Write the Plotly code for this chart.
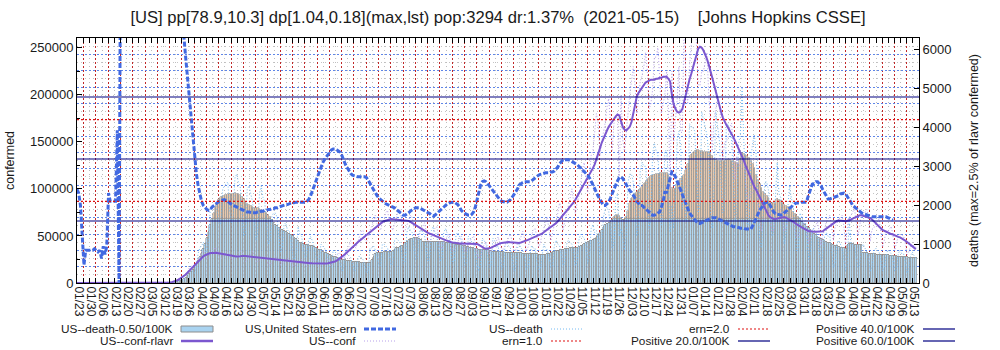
import pandas as pd
import plotly.graph_objects as go

# ---------------- data ----------------
start_date = "2020-01-22"
pop_100k = 3294                      # population in units of 100K
positive_per_100k = [20.0, 40.0, 60.0]
death_threshold_per_100k = 0.50
ern_levels = [1.0, 2.0]
tick_label_dates = pd.date_range("2020-01-23", periods=69, freq="7D")
tick_labels = [d.strftime("%m/%d") for d in tick_label_dates]

# daily confirmed (thousands), raw
conf_raw_k = [
    0, 0, 0, 0, 0, 0, 0,
    0, 0, 0, 0, 0, 0, 0,
    0, 0, 0, 0, 0, 0, 0,
    0, 0, 0, 0, 0, 0, 0,
    0, 0, 0, 0, 0, 0, 0,
    0, 0, 0, 0.01, 0, 0.01, 0.02,
    0.03, 0.05, 0.06, 0.07, 0.08, 0.12, 0.2,
    0.25, 0.35, 0.45, 0.55, 0.7, 1.0, 1.6,
    2.4, 3.5, 4.5, 5.2, 6.5, 8.5, 10.5,
    12, 16, 18, 19, 18, 20, 26,
    27, 31, 34, 31, 25, 27, 31,
    34, 36, 38, 32, 28, 26, 27,
    30, 33, 34, 30, 25, 25, 28,
    28, 32, 34, 33, 26, 23, 24,
    28, 30, 34, 29, 24, 22, 24,
    26, 28, 29, 26, 20, 19, 22,
    26, 28, 27, 25, 19, 22, 21,
    23, 26, 26, 23, 19, 18, 19,
    22, 23, 25, 23, 20, 17, 20,
    21, 23, 25, 22, 18, 17, 18,
    21, 23, 25, 25, 19, 18, 23,
    25, 28, 32, 31, 26, 25, 33,
    36, 39, 45, 42, 40, 37, 44,
    51, 55, 56, 46, 44, 48, 56,
    60, 65, 72, 63, 58, 56, 64,
    67, 75, 77, 65, 60, 56, 63,
    70, 76, 78, 66, 55, 56, 62,
    68, 72, 70, 58, 48, 46, 52,
    56, 60, 64, 55, 45, 43, 50,
    54, 58, 60, 50, 40, 36, 44,
    47, 50, 52, 44, 34, 35, 40,
    44, 47, 50, 42, 33, 34, 42,
    45, 47, 50, 42, 31, 26, 29,
    35, 41, 44, 38, 31, 34, 38,
    40, 45, 49, 42, 36, 36, 40,
    45, 49, 52, 43, 34, 35, 42,
    43, 48, 55, 48, 34, 38, 45,
    51, 56, 58, 50, 38, 42, 52,
    59, 65, 70, 56, 45, 53, 62,
    64, 75, 85, 80, 56, 66, 74,
    80, 90, 100, 85, 74, 85, 92,
    105, 120, 128, 110, 96, 112, 136,
    140, 158, 180, 170, 135, 150, 160,
    170, 187, 196, 170, 141, 170, 175,
    180, 110, 200, 152, 140, 160, 185,
    200, 215, 230, 210, 180, 195, 215,
    220, 230, 245, 225, 185, 190, 205,
    240, 240, 250, 220, 180, 190, 200,
    225, 185, 100, 225, 150, 170, 195,
    230, 160, 160, 290, 210, 190, 230,
    255, 275, 295, 255, 210, 210, 225,
    225, 235, 245, 200, 175, 140, 175,
    185, 195, 190, 170, 130, 150, 150,
    155, 165, 170, 140, 110, 135, 125,
    125, 130, 135, 105, 90, 88, 95,
    95, 105, 100, 85, 65, 55, 65,
    70, 70, 80, 72, 55, 55, 72,
    75, 78, 78, 70, 55, 58, 66,
    68, 70, 68, 60, 48, 50, 57,
    60, 64, 62, 55, 42, 48, 55,
    58, 62, 65, 53, 40, 50, 58,
    65, 68, 72, 60, 45, 60, 63,
    68, 70, 72, 60, 40, 60, 70,
    72, 75, 80, 65, 50, 60, 75,
    72, 75, 78, 70, 44, 57, 58,
    62, 65, 68, 55, 38, 45, 55,
    55, 58, 60, 50, 35, 44, 48,
    52, 51, 50, 42, 30, 33, 39,
    39, 40, 38,
]

# 7-day running average of confirmed (thousands)
conf_rlavr_k = [
    0, 0, 0, 0, 0, 0, 0,
    0, 0, 0, 0, 0, 0, 0,
    0, 0, 0, 0, 0, 0, 0,
    0, 0, 0, 0, 0, 0, 0,
    0, 0, 0, 0, 0, 0, 0,
    0, 0, 0, 0.01, 0.01, 0.01, 0.02,
    0.03, 0.04, 0.05, 0.07, 0.09, 0.12, 0.15,
    0.2, 0.28, 0.37, 0.5, 0.65, 0.9, 1.3,
    2.0, 2.8, 3.7, 4.8, 6.0, 7.5, 9.0,
    11.0, 13.0, 15.0, 17.0, 19.0, 21.0, 23.0,
    25.0, 26.8, 28.3, 29.5, 30.5, 31.2, 31.8,
    32.0, 32.2, 32.1, 31.8, 31.4, 31.0, 30.7,
    30.5, 30.2, 29.8, 29.4, 29.0, 28.7, 28.4,
    28.2, 28.0, 28.3, 28.6, 28.8, 28.6, 28.4,
    28.2, 28.0, 27.8, 27.5, 27.3, 27.1, 27.0,
    26.7, 26.4, 26.1, 25.8, 25.6, 25.4, 25.2,
    25.0, 24.7, 24.4, 24.1, 23.9, 23.7, 23.5,
    23.3, 23.1, 22.9, 22.7, 22.4, 22.2, 22.0,
    21.8, 21.6, 21.5, 21.4, 21.3, 21.3, 21.2,
    21.1, 21.0, 20.9, 20.8, 20.7, 20.6, 20.5,
    20.5, 20.6, 20.7, 20.9, 21.2, 21.5, 22.0,
    22.8, 23.8, 25.0, 26.3, 27.8, 29.4, 31.0,
    32.6, 34.2, 36.0, 37.8, 39.6, 41.4, 43.2,
    45.0, 46.6, 48.0, 49.5, 51.0, 52.6, 54.3,
    56.0, 57.6, 59.0, 60.5, 62.0, 63.4, 64.6,
    65.6, 66.4, 67.2, 67.8, 68.0, 67.8, 67.6,
    67.4, 67.2, 67.0, 66.8, 66.6, 66.4, 66.2,
    66.0, 65.0, 63.8, 62.6, 61.4, 60.0, 58.8,
    57.5, 56.2, 55.0, 54.0, 53.2, 52.5, 51.8,
    51.2, 50.6, 50.0, 49.3, 48.4, 47.4, 46.4,
    45.5, 44.6, 44.0, 43.5, 43.0, 42.6, 42.3,
    42.1, 42.0, 42.0, 42.0, 41.9, 41.8, 41.8,
    41.8, 41.8, 41.7, 41.6, 41.5, 40.5, 39.0,
    38.0, 37.0, 36.5, 36.3, 36.8, 37.6, 38.6,
    39.6, 40.5, 41.5, 42.0, 42.6, 43.0, 43.5,
    43.6, 43.5, 43.3, 43.0, 42.8, 42.7, 42.6,
    42.6, 43.0, 43.5, 44.2, 45.0, 45.8, 46.6,
    47.4, 48.2, 49.0, 49.6, 50.0, 51.0, 52.4,
    54.0, 55.6, 57.0, 58.5, 59.6, 60.8, 62.0,
    63.6, 65.5, 67.6, 70.0, 72.4, 74.6, 76.6,
    78.6, 80.8, 83.0, 85.6, 88.4, 91.6, 95.0,
    98.5, 102, 106, 109, 112, 115, 118,
    122, 126, 131, 137, 143, 149, 154,
    158, 162, 166, 169, 172, 175, 177,
    179, 178, 172, 166, 163, 162, 164,
    166, 171, 180, 190, 198, 202, 205,
    207, 210, 213, 214, 215, 216, 216,
    216, 217, 217, 218, 218, 219, 219,
    219, 217, 214, 200, 190, 185, 182,
    181, 182, 185, 193, 203, 210, 216,
    222, 229, 236, 243, 249, 251, 250,
    247, 243, 238, 232, 226, 218, 211,
    203, 196, 189, 182, 176, 171, 168,
    165, 162, 158, 155, 151, 147, 143,
    138, 134, 130, 125, 120, 115, 110,
    106, 102, 99, 95, 91, 87, 83,
    79, 76, 72, 70, 68.5, 68, 68,
    68.5, 69, 69.5, 70, 70, 69.5, 68.5,
    67.5, 66.5, 65.5, 64, 62.5, 61, 60,
    59, 58, 57, 56, 55, 55, 54.5,
    54.5, 54.5, 54.5, 54.5, 54.5, 55, 56.5,
    58, 59.5, 61, 62.5, 64, 65, 66,
    66.5, 66.5, 66.5, 66, 65.5, 66, 66.5,
    67.5, 68.5, 69.5, 70.5, 71.5, 72, 72,
    71.5, 71, 70.5, 70, 69, 67.5, 66,
    64, 62, 60, 58, 56.5, 55.5, 54.5,
    53.5, 53, 52, 51.5, 50.5, 50, 49,
    48.5, 47.5, 46.5, 45, 43.5, 42, 40.5,
    39, 37.5, 36,
]

# daily deaths, raw
death_raw = [
    0, 0, 0, 0, 0, 0, 0,
    0, 0, 0, 0, 0, 0, 0,
    0, 0, 0, 0, 0, 0, 0,
    0, 0, 0, 0, 0, 0, 0,
    0, 0, 0, 0, 0, 0, 0,
    0, 0, 0, 1, 0, 1, 1,
    1, 1, 2, 2, 1, 4, 5,
    5, 6, 8, 9, 10, 18, 28,
    35, 45, 60, 65, 75, 110, 190,
    240, 280, 320, 300, 250, 400, 750,
    900, 950, 1050, 900, 700, 1100, 1900,
    2000, 2000, 2050, 1800, 1550, 1500, 2400,
    2500, 2550, 2600, 1850, 1550, 1700, 2700,
    2800, 2600, 2500, 1900, 1200, 1300, 2400,
    2500, 2300, 2100, 1700, 1100, 1300, 2300,
    2500, 2200, 2100, 1600, 1000, 1100, 1700,
    1800, 1800, 1700, 1300, 800, 900, 1500,
    1550, 1350, 1350, 1100, 700, 600, 800,
    1450, 1250, 1200, 900, 650, 700, 1100,
    1200, 1100, 950, 750, 500, 550, 1000,
    950, 900, 800, 650, 350, 400, 850,
    800, 750, 700, 500, 300, 400, 800,
    750, 700, 650, 500, 300, 350, 600,
    700, 650, 600, 450, 250, 300, 900,
    900, 950, 850, 700, 450, 450, 1000,
    1000, 950, 900, 700, 450, 500, 1100,
    1150, 1100, 1050, 800, 500, 550, 1300,
    1450, 1350, 1300, 1000, 600, 650, 1300,
    1400, 1300, 1250, 900, 550, 600, 1350,
    1450, 1300, 1250, 900, 550, 650, 1300,
    1400, 1250, 1150, 900, 500, 550, 1250,
    1300, 1200, 1100, 800, 450, 500, 1200,
    1150, 1050, 1050, 750, 450, 300, 500,
    1150, 1100, 1000, 750, 400, 450, 1150,
    1100, 900, 950, 700, 350, 450, 1000,
    1050, 950, 900, 650, 300, 350, 900,
    1000, 900, 850, 650, 350, 400, 700,
    950, 900, 900, 600, 350, 350, 750,
    1000, 900, 850, 650, 400, 450, 950,
    1100, 1000, 950, 750, 450, 500, 1000,
    1100, 1050, 1000, 800, 450, 550, 1100,
    1250, 1200, 1150, 1000, 500, 700, 1400,
    1500, 1300, 1350, 1100, 650, 900, 1700,
    1900, 1950, 1850, 1400, 900, 1000, 2200,
    2300, 1200, 1400, 1200, 850, 1200, 2600,
    2800, 2800, 2600, 2000, 1200, 1500, 2900,
    3100, 3000, 3000, 2400, 1400, 1700, 3300,
    3600, 3400, 3300, 2500, 1500, 1900, 3400,
    3400, 2800, 1300, 2000, 1400, 2100, 3700,
    3900, 3500, 1900, 2500, 1600, 2000, 4100,
    4000, 4000, 3900, 2900, 1800, 2000, 4400,
    4200, 4000, 3800, 3300, 1800, 1400, 2500,
    4400, 4100, 3700, 2600, 1800, 1900, 4000,
    4100, 3900, 3700, 2700, 1600, 1800, 3600,
    3800, 5000, 3600, 2600, 1500, 1500, 3200,
    3600, 3800, 3300, 2200, 1100, 900, 1700,
    2600, 2600, 2400, 1800, 1200, 1300, 2300,
    3100, 2300, 2200, 1800, 1000, 1300, 2000,
    2500, 2200, 2000, 1500, 800, 900, 1800,
    1700, 1500, 1600, 1200, 600, 800, 1400,
    1400, 1300, 1200, 800, 500, 700, 1200,
    1300, 1200, 1200, 700, 400, 500, 1000,
    1100, 1000, 900, 600, 300, 500, 1700,
    1000, 1000, 950, 700, 400, 450, 900,
    1000, 900, 800, 600, 300, 400, 800,
    900, 850, 800, 650, 300, 400, 700,
    850, 800, 750, 600, 300, 350, 750,
    850, 750, 750, 550, 250, 350, 700,
    800, 700, 650,
]

# 7-day running average of deaths
death_rlavr = [
    0, 0, 0, 0, 0, 0, 0,
    0, 0, 0, 0, 0, 0, 0,
    0, 0, 0, 0, 0, 0, 0,
    0, 0, 0, 0, 0, 0, 0,
    0, 0, 0, 0, 0, 0, 0,
    0, 0, 0, 0, 0, 0, 0,
    1, 1, 1, 2, 2, 3, 3,
    4, 5, 6, 7, 9, 12, 16,
    22, 30, 40, 55, 75, 100, 130,
    170, 220, 280, 340, 400, 480, 560,
    660, 760, 880, 1000, 1150, 1300, 1480,
    1650, 1800, 1950, 2050, 2150, 2200, 2230,
    2250, 2270, 2280, 2290, 2300, 2300, 2310,
    2300, 2300, 2270, 2200, 2150, 2080, 2040,
    2000, 1970, 1950, 1940, 1930, 1920, 1900,
    1880, 1860, 1830, 1800, 1760, 1700, 1620,
    1550, 1500, 1460, 1420, 1390, 1360, 1330,
    1310, 1290, 1260, 1230, 1200, 1160, 1120,
    1080, 1040, 1020, 1000, 990, 985, 980,
    960, 940, 920, 900, 880, 860, 840,
    810, 780, 760, 740, 720, 700, 680,
    660, 640, 620, 610, 600, 590, 580,
    570, 560, 555, 550, 545, 540, 535,
    530, 525, 520, 515, 510, 510, 520,
    600, 680, 740, 760, 770, 775, 780,
    785, 790, 795, 800, 810, 830, 860,
    890, 910, 925, 950, 980, 1020, 1060,
    1100, 1120, 1140, 1150, 1160, 1160, 1140,
    1100, 1060, 1050, 1050, 1050, 1050, 1050,
    1050, 1050, 1050, 1050, 1050, 1050, 1045,
    1040, 1035, 1030, 1020, 1010, 1000, 990,
    985, 980, 970, 960, 945, 930, 915,
    905, 900, 890, 880, 870, 860, 855,
    850, 850, 845, 840, 830, 820, 810,
    805, 800, 800, 795, 790, 785, 780,
    775, 772, 770, 770, 768, 766, 764,
    762, 760, 758, 755, 752, 750, 748,
    745, 742, 740, 735, 730, 725, 720,
    720, 725, 735, 750, 770, 790, 810,
    820, 830, 840, 850, 860, 870, 880,
    885, 890, 895, 900, 905, 910, 930,
    960, 990, 1010, 1030, 1050, 1070, 1090,
    1110, 1140, 1180, 1230, 1290, 1360, 1430,
    1490, 1520, 1540, 1570, 1620, 1690, 1750,
    1760, 1720, 1660, 1620, 1640, 1700, 1850,
    2050, 2150, 2220, 2280, 2340, 2380, 2420,
    2480, 2540, 2600, 2650, 2700, 2750, 2780,
    2790, 2800, 2810, 2820, 2830, 2830, 2830,
    2820, 2780, 2700, 2440, 2420, 2450, 2550,
    2620, 2680, 2720, 2780, 2900, 3050, 3180,
    3280, 3350, 3400, 3420, 3410, 3400, 3390,
    3380, 3380, 3375, 3370, 3330, 3260, 3200,
    3160, 3140, 3130, 3130, 3140, 3150, 3155,
    3160, 3160, 3150, 3130, 3100, 3080, 3060,
    3200, 3340, 3330, 3300, 3260, 3220, 3150,
    3050, 2950, 2780, 2650, 2550, 2450, 2350,
    2300, 2250, 2180, 2080, 2060, 2050, 2040,
    2160, 2140, 2100, 2050, 2000, 1970, 1950,
    1950, 1900, 1830, 1780, 1750, 1700, 1640,
    1580, 1530, 1480, 1440, 1410, 1370, 1320,
    1270, 1230, 1190, 1160, 1130, 1100, 1080,
    1060, 1040, 1020, 1000, 980, 960, 940,
    920, 910, 900, 890, 880, 990, 1000,
    1000, 995, 990, 985, 985, 980, 975,
    770, 765, 760, 755, 750, 745, 740,
    735, 730, 725, 720, 718, 716, 714,
    710, 705, 700, 695, 690, 685, 680,
    675, 672, 670, 665, 660, 655, 650,
    645, 640, 635,
]

# effective reproduction number
ern = [
    1.15, 1.1, 0.95, 0.62, 0.22, 0.4, 0.4,
    0.4, 0.4, 0.4, 0.42, 0.4, 0.38, 0.4,
    0.3, 0.45, 0.35, 0.45, 1.1, 1.0, 1.0,
    1.0, 1.0, 1.87, 0.0, 5, 5, 5,
    5, 5, 5, 5, 5, 5, 5,
    5, 5, 5, 5, 5, 5, 5,
    5, 5, 5, 5, 5, 5, 5,
    5, 5, 5, 5, 5, 5, 5,
    5, 5, 5, 5, 3.6, 3.0, 2.75,
    2.5, 2.25, 2.0, 1.77, 1.54, 1.35, 1.2,
    1.08, 1.0, 0.95, 0.92, 0.9, 0.89, 0.9,
    0.93, 0.95, 0.97, 0.98, 1.0, 1.01, 1.02,
    1.02, 1.01, 1.0, 0.98, 0.96, 0.95, 0.94,
    0.93, 0.92, 0.91, 0.9, 0.89, 0.88, 0.87,
    0.87, 0.86, 0.86, 0.86, 0.86, 0.87, 0.87,
    0.88, 0.88, 0.89, 0.89, 0.9, 0.9, 0.91,
    0.91, 0.92, 0.92, 0.93, 0.94, 0.94, 0.95,
    0.96, 0.96, 0.97, 0.98, 0.98, 0.99, 0.99,
    0.99, 0.99, 0.99, 0.99, 0.99, 1.0, 1.02,
    1.06, 1.12, 1.18, 1.24, 1.3, 1.36, 1.42,
    1.47, 1.51, 1.54, 1.58, 1.61, 1.63, 1.64,
    1.64, 1.63, 1.62, 1.6, 1.56, 1.5, 1.45,
    1.41, 1.37, 1.34, 1.32, 1.31, 1.3, 1.3,
    1.3, 1.3, 1.3, 1.3, 1.29, 1.26, 1.22,
    1.18, 1.14, 1.1, 1.07, 1.04, 1.02, 1.0,
    0.98, 0.97, 0.96, 0.95, 0.95, 0.94, 0.92,
    0.9, 0.88, 0.86, 0.84, 0.83, 0.83, 0.84,
    0.86, 0.88, 0.9, 0.91, 0.92, 0.92, 0.92,
    0.91, 0.9, 0.89, 0.88, 0.87, 0.85, 0.83,
    0.82, 0.83, 0.85, 0.88, 0.9, 0.92, 0.94,
    0.96, 0.97, 0.98, 0.99, 0.99, 0.99, 0.98,
    0.96, 0.93, 0.89, 0.87, 0.85, 0.84, 0.83,
    0.83, 0.84, 0.87, 0.93, 1.02, 1.12, 1.2,
    1.24, 1.25, 1.24, 1.22, 1.19, 1.16, 1.13,
    1.1, 1.07, 1.04, 1.02, 1.0, 0.99, 0.99,
    0.99, 1.0, 1.02, 1.05, 1.08, 1.11, 1.15,
    1.2, 1.22, 1.23, 1.24, 1.24, 1.24, 1.24,
    1.25, 1.27, 1.29, 1.3, 1.32, 1.33, 1.34,
    1.34, 1.35, 1.35, 1.35, 1.36, 1.36, 1.37,
    1.39, 1.42, 1.46, 1.49, 1.51, 1.51, 1.51,
    1.51, 1.5, 1.49, 1.48, 1.47, 1.45, 1.43,
    1.41, 1.39, 1.37, 1.35, 1.32, 1.29, 1.25,
    1.2, 1.16, 1.11, 1.06, 1.02, 0.98, 0.95,
    0.95, 0.97, 0.99, 1.04, 1.1, 1.16, 1.2,
    1.25, 1.29, 1.3, 1.28, 1.24, 1.2, 1.16,
    1.13, 1.11, 1.08, 1.04, 1.0, 0.97, 0.95,
    0.95, 0.93, 0.91, 0.89, 0.87, 0.85, 0.83,
    0.83, 0.84, 0.85, 0.87, 0.93, 1.0, 1.11,
    1.11, 1.2, 1.28, 1.36, 1.35, 1.3, 1.26,
    1.2, 1.14, 1.08, 1.02, 0.96, 0.9, 0.86,
    0.83, 0.8, 0.77, 0.75, 0.73, 0.73, 0.74,
    0.75, 0.76, 0.77, 0.79, 0.8, 0.8, 0.8,
    0.8, 0.79, 0.78, 0.77, 0.76, 0.75, 0.74,
    0.72, 0.71, 0.7, 0.69, 0.69, 0.68, 0.68,
    0.67, 0.67, 0.67, 0.66, 0.66, 0.66, 0.66,
    0.7, 0.75, 0.81, 0.85, 0.89, 0.92, 0.95,
    0.98, 0.99, 0.99, 0.95, 0.91, 0.87, 0.85,
    0.84, 0.83, 0.83, 0.84, 0.86, 0.88, 0.9,
    0.92, 0.94, 0.96, 0.97, 0.98, 0.98, 0.98,
    0.99, 0.99, 0.99, 1.02, 1.08, 1.15, 1.21,
    1.22, 1.24, 1.24, 1.22, 1.19, 1.14, 1.1,
    1.06, 1.03, 1.03, 1.04, 1.05, 1.05, 1.06,
    1.07, 1.09, 1.1, 1.1, 1.09, 1.06, 1.03,
    0.99, 0.95, 0.93, 0.91, 0.89, 0.88, 0.86,
    0.85, 0.84, 0.83, 0.82, 0.81, 0.81, 0.81,
    0.81, 0.81, 0.81, 0.81, 0.81, 0.81, 0.81,
    0.8, 0.79, 0.78, 0.77, None, None, None,
    None, None, None, None, None, None, None,
    None, None, None,
]

# ---------------- derived ----------------
dates = pd.date_range(start_date, periods=len(conf_rlavr_k), freq="D")
conf_raw = [v * 1000 for v in conf_raw_k]
conf_rlavr = [v * 1000 for v in conf_rlavr_k]
death_thr = death_threshold_per_100k * pop_100k
death_low = [min(v, death_thr) for v in death_rlavr]
death_high = [max(v - death_thr, 0) for v in death_rlavr]
positive_levels = [p * pop_100k for p in positive_per_100k]

t0 = pd.Timestamp(start_date)
x_lo = t0 + pd.Timedelta(days=0.03)
x_hi = t0 + pd.Timedelta(days=479.8)
xr = [x_lo.isoformat(), x_hi.isoformat()]
TICK_OFFSET_DAYS = 2.8
tick_pos = [d + pd.Timedelta(days=TICK_OFFSET_DAYS) for d in tick_label_dates]

FONT = "Liberation Sans"
C_BAR = "#a9d3f0"
C_BAR_HI = "#e6c4a6"
C_BAR_LINE = "#8d8d8d"
C_ERN = "#4169e1"
C_RLAVR = "#7b57cf"
C_CONF = "#b7a0ea"
C_DEATH = "#74baf2"
C_ERNLV = "#e01010"
C_POS = "#000080"

fig = go.Figure()

# bars (deaths running average) -- base axis y (right side)
fig.add_trace(go.Bar(x=dates[:len(death_low)], y=death_low, name="US--death-0.50/100K",
                     marker=dict(color=C_BAR, line=dict(color=C_BAR_LINE, width=0.6)),
                     opacity=0.9, yaxis="y", hoverinfo="skip"))
fig.add_trace(go.Bar(x=dates[:len(death_high)], y=death_high, name="US--death-0.50/100K hi",
                     marker=dict(color=C_BAR_HI, line=dict(color=C_BAR_LINE, width=0.6)),
                     opacity=0.9, yaxis="y", hoverinfo="skip"))
fig.add_trace(go.Scatter(x=dates[:len(death_raw)], y=death_raw, name="US--death", mode="lines",
                         line=dict(color=C_DEATH, width=1, dash="1px,2px"), yaxis="y"))

# confirmed -- overlay axis y2 (left side)
fig.add_trace(go.Scatter(x=dates[:len(conf_raw)], y=conf_raw, name="US--conf", mode="lines",
                         line=dict(color=C_CONF, width=1, dash="1px,2px"), yaxis="y2"))
fig.add_trace(go.Scatter(x=dates[:len(conf_rlavr)], y=conf_rlavr, name="US--conf-rlavr", mode="lines",
                         line=dict(color=C_RLAVR, width=2), yaxis="y2"))
for p, lv in zip(positive_per_100k, positive_levels):
    fig.add_trace(go.Scatter(x=xr, y=[lv, lv], name=f"Positive {p:.1f}/100K", mode="lines",
                             line=dict(color=C_POS, width=1.2), yaxis="y2"))

# ern -- overlay axis y3
fig.add_trace(go.Scatter(x=dates[:len(ern)], y=ern, name="US,United States-ern", mode="lines",
                         line=dict(color=C_ERN, width=3, dash="5px,2px"), yaxis="y3",
                         connectgaps=False))
for lv in ern_levels:
    fig.add_trace(go.Scatter(x=xr, y=[lv, lv], name=f"ern={lv:.1f}", mode="lines",
                             line=dict(color=C_ERNLV, width=1.2, dash="2px,2px"), yaxis="y3"))

title_text = ("[US] pp[78.9,10.3] dp[1.04,0.18](max,lst) pop:3294 dr:1.37%"
              "\u00a0\u00a0(2021-05-15)\u00a0\u00a0\u00a0\u00a0[Johns Hopkins CSSE]")

fig.update_layout(
    width=1000, height=350, autosize=False,
    margin=dict(l=77, r=81, t=38, b=67, pad=0, autoexpand=False),
    paper_bgcolor="white", plot_bgcolor="white",
    barmode="stack", bargap=0,
    showlegend=False,
    font=dict(family=FONT, size=12, color="#1a1a1a"),
    title=dict(text=title_text, x=0.5, xref="paper", xanchor="center",
               y=1 - 17 / 350, yref="container", yanchor="middle",
               font=dict(family=FONT, size=16.6, color="#1a1a1a")),
    xaxis=dict(type="date", range=xr, tickmode="array", tickvals=tick_pos, ticktext=tick_labels,
               tickangle=90, ticklabelshift=-5, tickfont=dict(size=12),
               ticks="inside", ticklen=5, tickcolor="black", mirror="allticks",
               showline=True, linecolor="black", linewidth=1,
               showgrid=True, gridcolor="#c02828", griddash="2px,2px", gridwidth=1,
               zeroline=False,
               minor=dict(tick0=(t0 + pd.Timedelta(days=TICK_OFFSET_DAYS - 2.5)).isoformat(),
                          dtick=302400000,
                          ticks="inside", ticklen=3, tickcolor="black",
                          showgrid=True, gridcolor="#bdbdbd", griddash="1px,3px", gridwidth=1)),
    yaxis=dict(side="right", range=[0, 6300], tickvals=[0, 1000, 2000, 3000, 4000, 5000, 6000],
               ticks="inside", ticklen=5, tickcolor="black",
               showline=True, linecolor="black", linewidth=1, showgrid=False, zeroline=False,
               tickfont=dict(size=13),
               title=dict(text="deaths (max=2.5% of rlavr confermed)", font=dict(size=12.5), standoff=18)),
    yaxis2=dict(overlaying="y", side="left", range=[0, 260300],
                tickvals=[0, 50000, 100000, 150000, 200000, 250000], tickformat="d",
                ticks="inside", ticklen=5, tickcolor="black",
                minor=dict(dtick=25000, ticks="inside", ticklen=3, tickcolor="black"),
                showline=True, linecolor="black", linewidth=1, showgrid=False, zeroline=False,
                tickfont=dict(size=13),
                title=dict(text="confermed", font=dict(size=12.5), standoff=12)),
    yaxis3=dict(overlaying="y", range=[0, 3], showticklabels=False, ticks="", showline=False,
                showgrid=True, gridcolor="#5f86e8", griddash="2px,2px", gridwidth=1,
                tick0=0, dtick=0.2, zeroline=False,
                minor=dict(dtick=0.1, showgrid=True, gridcolor="#c4c4c4", griddash="1px,3px")),
)

# -------- legend (gnuplot style: text right-aligned, sample to the right) --------
PX_L, PX_R, PX_T, PX_B = 77, 919, 38, 283


def px2x(px):
    return (px - PX_L) / (PX_R - PX_L)


def px2y(py):
    return (PX_B - py) / (PX_B - PX_T)


legend_items = [
    (0, 0, "US--death-0.50/100K", "bar"),
    (0, 1, "US,United States-ern", "ern"),
    (0, 2, "US--death", "death"),
    (0, 3, "ern=2.0", "ernlv"),
    (0, 4, "Positive 40.0/100K", "pos"),
    (1, 0, "US--conf-rlavr", "rlavr"),
    (1, 1, "US--conf", "conf"),
    (1, 2, "ern=1.0", "ernlv"),
    (1, 3, "Positive 20.0/100K", "pos"),
    (1, 4, "Positive 60.0/100K", "pos"),
]
col_right = [175, 358, 545, 732, 917]
row_y = [329, 341]
line_styles = {
    "ern": dict(color=C_ERN, width=3, dash="5px,2px"),
    "death": dict(color=C_DEATH, width=1, dash="1px,2px"),
    "ernlv": dict(color=C_ERNLV, width=1.2, dash="2px,2px"),
    "pos": dict(color=C_POS, width=1.2),
    "rlavr": dict(color=C_RLAVR, width=2.5),
    "conf": dict(color=C_CONF, width=1, dash="1px,2px"),
}
for r, c, text, kind in legend_items:
    xr_px = col_right[c]
    yy = row_y[r]
    fig.add_annotation(text=text, x=px2x(xr_px), y=px2y(yy), xref="paper", yref="paper",
                       xanchor="right", yanchor="middle", showarrow=False,
                       font=dict(family=FONT, size=11.8, color="#1a1a1a"))
    if kind == "bar":
        fig.add_shape(type="rect", xref="paper", yref="paper",
                      x0=px2x(xr_px + 6), x1=px2x(xr_px + 38), y0=px2y(yy + 3), y1=px2y(yy - 3),
                      fillcolor=C_BAR, line=dict(color=C_BAR_LINE, width=1))
    else:
        fig.add_shape(type="line", xref="paper", yref="paper",
                      x0=px2x(xr_px + 6), x1=px2x(xr_px + 38), y0=px2y(yy), y1=px2y(yy),
                      line=line_styles[kind])

fig.write_html("out.html")
